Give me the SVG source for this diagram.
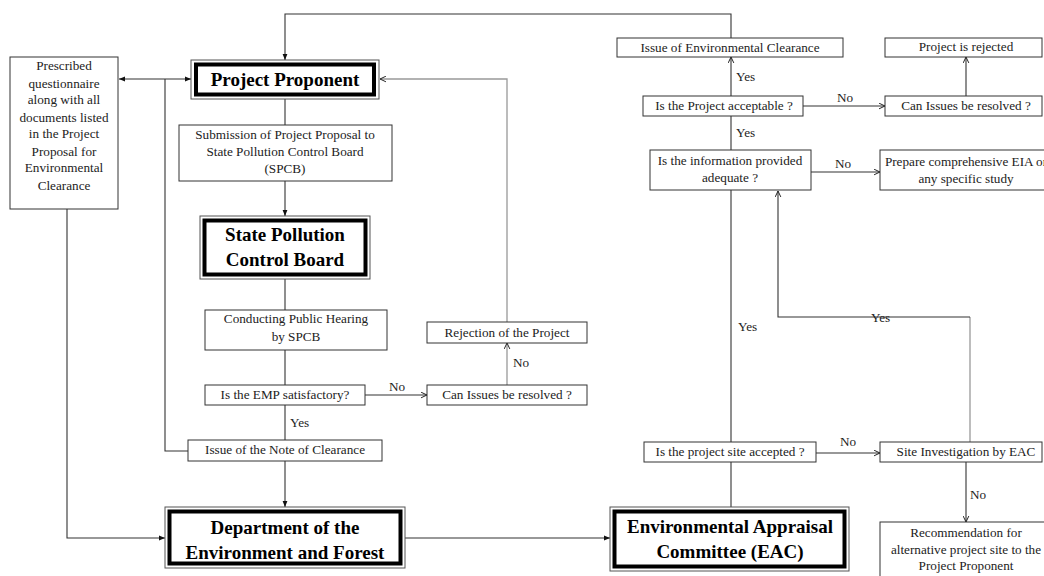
<svg xmlns="http://www.w3.org/2000/svg" width="1044" height="576" viewBox="0 0 1044 576">
<style>
.b{fill:#fff;stroke:#333;stroke-width:1}
.ob{fill:#fff;stroke:#555;stroke-width:1}
.ib{fill:none;stroke:#000;stroke-width:4}
.t{font-family:"Liberation Serif","Times New Roman",serif;font-size:13.2px;fill:#222;text-anchor:middle}
.l{font-family:"Liberation Serif","Times New Roman",serif;font-size:13.2px;fill:#222}
.h{font-family:"Liberation Serif","Times New Roman",serif;font-size:19px;font-weight:bold;fill:#000;text-anchor:middle}
.c{fill:none;stroke:#333;stroke-width:1.1}
.g{fill:none;stroke:#999;stroke-width:1.3}
</style>
<defs>
<marker id="op" viewBox="0 0 10 10" refX="9.5" refY="5" markerWidth="7" markerHeight="7" markerUnits="userSpaceOnUse" orient="auto"><path d="M1,1 L9.5,5 L1,9" fill="none" stroke="#222" stroke-width="1.4"/></marker>
<marker id="fl" viewBox="0 0 10 10" refX="10" refY="5" markerWidth="6" markerHeight="6" markerUnits="userSpaceOnUse" orient="auto-start-reverse"><path d="M0,1 L10,5 L0,9 z" fill="#111"/></marker>
</defs>
<rect width="1044" height="576" fill="#fff"/>
<g id="connectors">
<path class="c" d="M731,38 V14 H285 V60" marker-end="url(#fl)"/>
<path class="c" d="M119,79 H191" marker-start="url(#fl)" marker-end="url(#fl)"/>
<path class="c" d="M165,79 V451 H188"/>
<path class="c" d="M67,209 V538 H165" marker-end="url(#fl)"/>
<path class="c" d="M285,99 V125"/>
<path class="c" d="M285,181 V216" marker-end="url(#fl)"/>
<path class="c" d="M285,279 V310"/>
<path class="c" d="M285,350 V385"/>
<path class="c" d="M285,405 V440"/>
<path class="c" d="M285,461 V507" marker-end="url(#fl)"/>
<path class="c" d="M365,395 H427" marker-end="url(#op)"/>
<path class="g" d="M507,385 V343" marker-end="url(#op)"/>
<path class="g" d="M507,322 V79 H380" marker-end="url(#op)"/>
<path class="c" d="M405,538 H610" marker-end="url(#fl)"/>
<path class="c" d="M731,507 V462"/>
<path class="c" d="M731,442 V190"/>
<path class="c" d="M731,150 V116"/>
<path class="c" d="M731,96 V57" marker-end="url(#op)"/>
<path class="c" d="M803,106 H885" marker-end="url(#op)"/>
<path class="c" d="M966,96 V57" marker-end="url(#op)"/>
<path class="c" d="M811,172 H880" marker-end="url(#op)"/>
<path class="c" d="M816,453 H880" marker-end="url(#op)"/>
<path class="c" d="M966,462 V522" marker-end="url(#op)"/>
<path class="g" d="M970,442 V317"/>
<path class="c" d="M970,317 H778 V191" marker-end="url(#op)"/>
<text class="l" x="389" y="391">No</text>
<text class="l" x="290" y="427">Yes</text>
<text class="l" x="513" y="367">No</text>
<text class="l" x="736" y="81">Yes</text>
<text class="l" x="736" y="137">Yes</text>
<text class="l" x="837" y="102">No</text>
<text class="l" x="835" y="168">No</text>
<text class="l" x="738" y="331">Yes</text>
<text class="l" x="871" y="322">Yes</text>
<text class="l" x="840" y="446">No</text>
<text class="l" x="970" y="499">No</text>
</g>
<g id="questionnaire">
<rect class="b" x="10" y="57" width="108" height="152"/>
<text class="t" x="64" y="70">Prescribed</text>
<text class="t" x="64" y="88">questionnaire</text>
<text class="t" x="64" y="104">along with all</text>
<text class="t" x="64" y="122">documents listed</text>
<text class="t" x="64" y="138">in the Project</text>
<text class="t" x="64" y="156">Proposal for</text>
<text class="t" x="64" y="172">Environmental</text>
<text class="t" x="64" y="190">Clearance</text>
</g>
<g id="project-proponent">
<rect class="ob" x="191" y="60" width="188" height="39"/>
<rect class="ib" x="196" y="64.5" width="178" height="30"/>
<text class="h" x="285" y="86">Project Proponent</text>
</g>
<g id="submission">
<rect class="b" x="179" y="125" width="213" height="56"/>
<text class="t" x="285" y="138.5">Submission of Project Proposal to</text>
<text class="t" x="285" y="155.5">State Pollution Control Board</text>
<text class="t" x="285" y="172.5">(SPCB)</text>
</g>
<g id="spcb">
<rect class="ob" x="200" y="216" width="170" height="63"/>
<rect class="ib" x="204.5" y="220.5" width="161" height="54"/>
<text class="h" x="285" y="241">State Pollution</text>
<text class="h" x="285" y="266">Control Board</text>
</g>
<g id="public-hearing">
<rect class="b" x="205" y="310" width="182" height="40"/>
<text class="t" x="296" y="323">Conducting Public Hearing</text>
<text class="t" x="296" y="341">by SPCB</text>
</g>
<g id="emp">
<rect class="b" x="205" y="385" width="160" height="20"/>
<text class="t" x="285" y="399">Is the EMP satisfactory?</text>
</g>
<g id="can-issues-1">
<rect class="b" x="427" y="385" width="160" height="20"/>
<text class="t" x="507" y="398.5">Can Issues be resolved ?</text>
</g>
<g id="rejection">
<rect class="b" x="427" y="322" width="160" height="21"/>
<text class="t" x="507" y="336.5">Rejection of the Project</text>
</g>
<g id="note-clearance">
<rect class="b" x="188" y="440" width="194" height="21"/>
<text class="t" x="285" y="454">Issue of the Note of Clearance</text>
</g>
<g id="department">
<rect class="ob" x="165" y="507" width="240" height="61"/>
<rect class="ib" x="169.5" y="511.5" width="231" height="52"/>
<text class="h" x="285" y="534">Department of the</text>
<text class="h" x="285" y="559">Environment and Forest</text>
</g>
<g id="eac">
<rect class="ob" x="610" y="507" width="239" height="64"/>
<rect class="ib" x="614.5" y="511.5" width="230" height="55"/>
<text class="h" x="730" y="533">Environmental Appraisal</text>
<text class="h" x="730" y="558">Committee (EAC)</text>
</g>
<g id="issue-ec">
<rect class="b" x="617" y="38" width="226" height="19"/>
<text class="t" x="730" y="51.5">Issue of Environmental Clearance</text>
</g>
<g id="project-rejected">
<rect class="b" x="885" y="38" width="157" height="19"/>
<text class="t" x="966" y="51">Project is rejected</text>
</g>
<g id="acceptable">
<rect class="b" x="643" y="96" width="160" height="20"/>
<text class="t" x="724" y="110">Is the Project acceptable ?</text>
</g>
<g id="can-issues-2">
<rect class="b" x="885" y="96" width="157" height="20"/>
<text class="t" x="966" y="110">Can Issues be resolved ?</text>
</g>
<g id="information">
<rect class="b" x="650" y="150" width="161" height="40"/>
<text class="t" x="730" y="165">Is the information provided</text>
<text class="t" x="730" y="182">adequate ?</text>
</g>
<g id="prepare-eia">
<rect class="b" x="880" y="150" width="172" height="40"/>
<text class="t" x="966" y="166">Prepare comprehensive EIA or</text>
<text class="t" x="966" y="183">any specific study</text>
</g>
<g id="site-accepted">
<rect class="b" x="644" y="442" width="172" height="20"/>
<text class="t" x="730" y="456">Is the project site accepted ?</text>
</g>
<g id="site-investigation">
<rect class="b" x="880" y="442" width="162" height="20"/>
<text class="t" x="966" y="456">Site Investigation by EAC</text>
</g>
<g id="recommendation">
<rect class="b" x="880" y="522" width="172" height="70"/>
<text class="t" x="966" y="537">Recommendation for</text>
<text class="t" x="966" y="554">alternative project site to the</text>
<text class="t" x="966" y="570">Project Proponent</text>
</g>
</svg>
